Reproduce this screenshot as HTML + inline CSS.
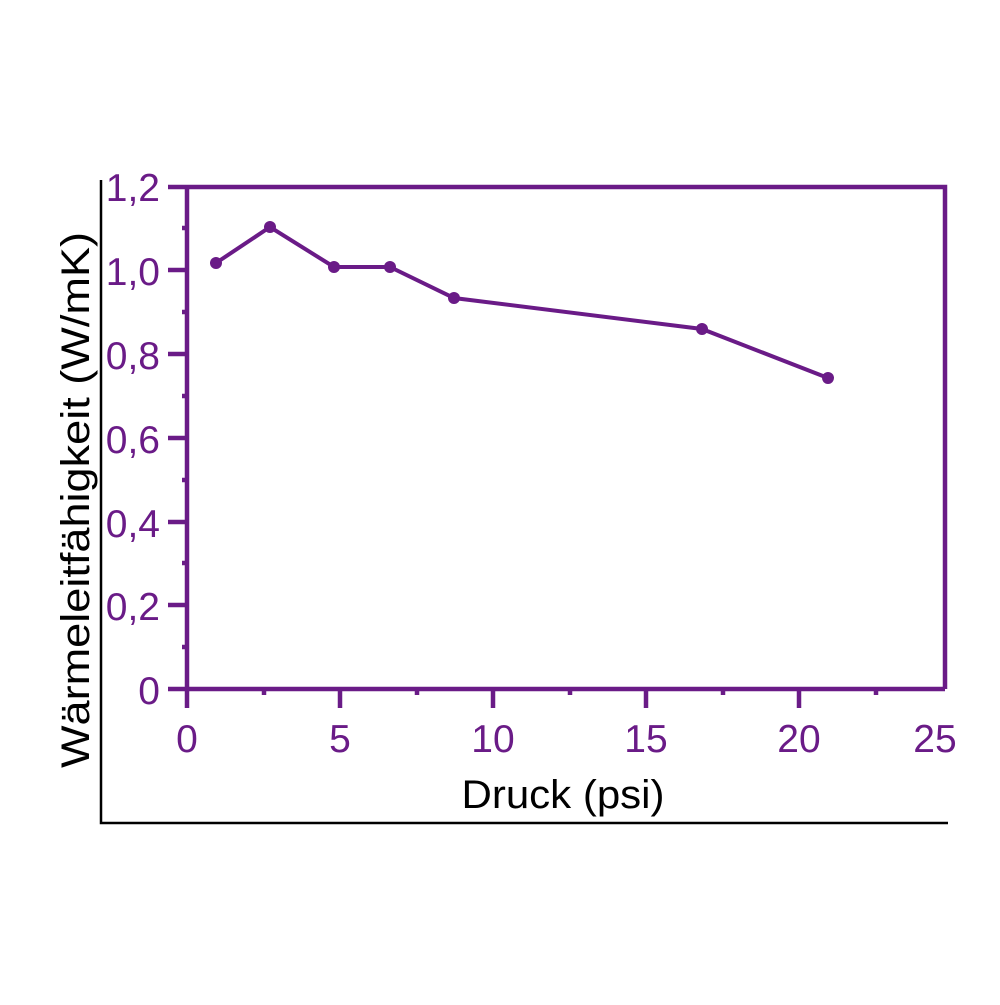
<!DOCTYPE html>
<html><head><meta charset="utf-8"><style>html,body{margin:0;padding:0;background:#fff}</style></head>
<body>
<svg width="1000" height="1000" viewBox="0 0 1000 1000" xmlns="http://www.w3.org/2000/svg" font-family="Liberation Sans, sans-serif">
<rect width="1000" height="1000" fill="#fff"/>
<path d="M101 180 V823 H948" fill="none" stroke="#000" stroke-width="2.5"/>
<g stroke="#6a1b87" stroke-width="4.5" fill="none">
<path d="M168 187 H945 V689"/>
<path d="M168 689 H945"/>
<path d="M187 187 V708"/>
<path d="M168 270 H187 M168 354 H187 M168 438 H187 M168 522 H187 M168 605 H187"/>
<path d="M182 228 H187 M182 312 H187 M182 396 H187 M182 480 H187 M182 563 H187 M182 647 H187"/>
<path d="M340 689 V708 M493 689 V708 M646 689 V708 M799 689 V708"/>
<path d="M264 689 V695 M417 689 V695 M570 689 V695 M723 689 V695 M876 689 V695"/>
</g>
<polyline points="216,263 270,227 334,267 390,267 454,298 702,329 828,378" fill="none" stroke="#6a1b87" stroke-width="4"/>
<g fill="#6a1b87">
<circle cx="216" cy="263" r="6"/><circle cx="270" cy="227" r="6"/><circle cx="334" cy="267" r="6"/><circle cx="390" cy="267" r="6"/><circle cx="454" cy="298" r="6"/><circle cx="702" cy="329" r="6"/><circle cx="828" cy="378" r="6"/>
</g>
<g fill="#6a1b87" font-size="39" text-anchor="end">
<text x="160" y="201">1,2</text>
<text x="160" y="285">1,0</text>
<text x="160" y="369">0,8</text>
<text x="160" y="453">0,6</text>
<text x="160" y="537">0,4</text>
<text x="160" y="620">0,2</text>
<text x="160" y="704">0</text>
</g>
<g fill="#6a1b87" font-size="39" text-anchor="middle">
<text x="187" y="752">0</text>
<text x="340" y="752">5</text>
<text x="493" y="752">10</text>
<text x="646" y="752">15</text>
<text x="799" y="752">20</text>
<text x="935" y="752">25</text>
</g>
<text x="563" y="808" font-size="40" text-anchor="middle" fill="#000" textLength="203" lengthAdjust="spacingAndGlyphs">Druck (psi)</text>
<text transform="translate(89,500) rotate(-90)" font-size="40" text-anchor="middle" fill="#000" textLength="536" lengthAdjust="spacingAndGlyphs">Wärmeleitfähigkeit (W/mK)</text>
</svg>
</body></html>
